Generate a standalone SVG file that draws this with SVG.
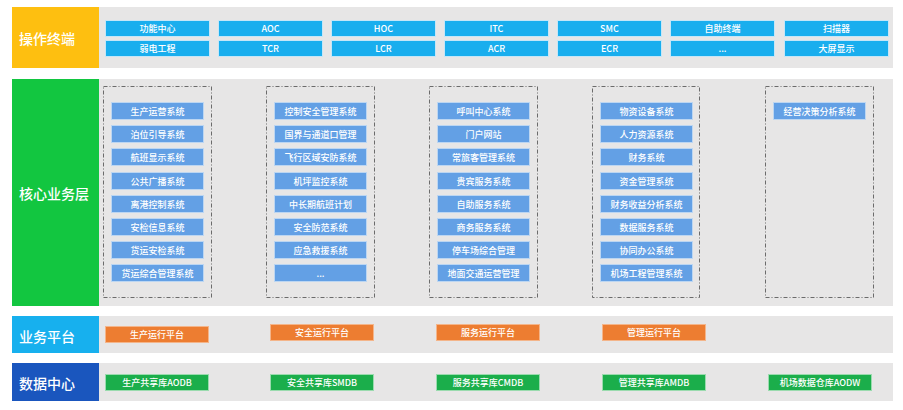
<svg xmlns="http://www.w3.org/2000/svg" width="903" height="410" viewBox="0 0 903 410">
<defs>
<style>
.band{fill:#E7E6E6;}
.lbl{fill:#fff;font-family:"Noto Sans CJK SC","Noto Sans",sans-serif;font-size:14px;font-weight:500;dominant-baseline:central;}
.t{fill:#fff;font-family:"Noto Sans CJK SC","Noto Sans",sans-serif;font-size:9px;font-weight:500;text-anchor:middle;dominant-baseline:central;}
.tb{fill:#19AEEE;stroke:#C5E6F7;stroke-width:1;}
.cb{fill:#63A0E5;stroke:#BCD6F2;stroke-width:1;}
.ob{fill:#ED7D31;stroke:#F4B58A;stroke-width:1;}
.gb{fill:#1BAE4B;stroke:#9ADBAE;stroke-width:1;}
.dash{fill:none;stroke:#6b6b6b;stroke-width:1;stroke-dasharray:4 2 1 2;}
</style>
</defs>
<rect width="903" height="410" fill="#fff"/>

<!-- 操作终端 -->
<g id="layer-terminal">
<rect class="band" x="99" y="7" width="794" height="61"/>
<rect x="12" y="7" width="87" height="61" fill="#FEBF10"/>
<text class="lbl" x="19" y="37.5">操作终端</text>
</g>
<g id="terminal-items">
<g id="t1"><rect class="tb" x="105.5" y="20.5" width="104" height="16"/><text class="t" x="157.5" y="28.5">功能中心</text></g>
<g id="t2"><rect class="tb" x="218.5" y="20.5" width="104" height="16"/><text class="t" x="270.5" y="28.5">AOC</text></g>
<g id="t3"><rect class="tb" x="331.5" y="20.5" width="104" height="16"/><text class="t" x="383.5" y="28.5">HOC</text></g>
<g id="t4"><rect class="tb" x="444.5" y="20.5" width="104" height="16"/><text class="t" x="496.5" y="28.5">ITC</text></g>
<g id="t5"><rect class="tb" x="557.5" y="20.5" width="104" height="16"/><text class="t" x="609.5" y="28.5">SMC</text></g>
<g id="t6"><rect class="tb" x="670.5" y="20.5" width="104" height="16"/><text class="t" x="722.5" y="28.5">自助终端</text></g>
<g id="t7"><rect class="tb" x="784.5" y="20.5" width="104" height="16"/><text class="t" x="836.5" y="28.5">扫描器</text></g>
<g id="t8"><rect class="tb" x="105.5" y="40.5" width="104" height="16"/><text class="t" x="157.5" y="48.5">弱电工程</text></g>
<g id="t9"><rect class="tb" x="218.5" y="40.5" width="104" height="16"/><text class="t" x="270.5" y="48.5">TCR</text></g>
<g id="t10"><rect class="tb" x="331.5" y="40.5" width="104" height="16"/><text class="t" x="383.5" y="48.5">LCR</text></g>
<g id="t11"><rect class="tb" x="444.5" y="40.5" width="104" height="16"/><text class="t" x="496.5" y="48.5">ACR</text></g>
<g id="t12"><rect class="tb" x="557.5" y="40.5" width="104" height="16"/><text class="t" x="609.5" y="48.5">ECR</text></g>
<g id="t13"><rect class="tb" x="670.5" y="40.5" width="104" height="16"/><text class="t" x="722.5" y="48.5">...</text></g>
<g id="t14"><rect class="tb" x="784.5" y="40.5" width="104" height="16"/><text class="t" x="836.5" y="48.5">大屏显示</text></g>
</g>

<!-- 核心业务层 -->
<g id="layer-core">
<rect class="band" x="99" y="79" width="794" height="227"/>
<rect x="12" y="79" width="87" height="227" fill="#12C640"/>
<text class="lbl" x="19" y="192.5">核心业务层</text>
</g>
<g id="core-groups">
<rect class="dash" x="103.5" y="86.5" width="108" height="211"/>
<rect class="dash" x="266.5" y="86.5" width="108" height="211"/>
<rect class="dash" x="429.5" y="86.5" width="108" height="211"/>
<rect class="dash" x="592.5" y="86.5" width="107" height="211"/>
<rect class="dash" x="765.5" y="86.5" width="108" height="211"/>
</g>
<g id="core-col1">
<g id="c1-1"><rect class="cb" x="111.5" y="102.5" width="92" height="17"/><text class="t" x="157.5" y="111">生产运营系统</text></g>
<g id="c1-2"><rect class="cb" x="111.5" y="125.5" width="92" height="17"/><text class="t" x="157.5" y="134">泊位引导系统</text></g>
<g id="c1-3"><rect class="cb" x="111.5" y="148.5" width="92" height="17"/><text class="t" x="157.5" y="157">航班显示系统</text></g>
<g id="c1-4"><rect class="cb" x="111.5" y="172.5" width="92" height="17"/><text class="t" x="157.5" y="181">公共广播系统</text></g>
<g id="c1-5"><rect class="cb" x="111.5" y="195.5" width="92" height="17"/><text class="t" x="157.5" y="204">离港控制系统</text></g>
<g id="c1-6"><rect class="cb" x="111.5" y="218.5" width="92" height="17"/><text class="t" x="157.5" y="227">安检信息系统</text></g>
<g id="c1-7"><rect class="cb" x="111.5" y="241.5" width="92" height="17"/><text class="t" x="157.5" y="250">货运安检系统</text></g>
<g id="c1-8"><rect class="cb" x="111.5" y="264.5" width="92" height="17"/><text class="t" x="157.5" y="273">货运综合管理系统</text></g>
</g>
<g id="core-col2">
<g id="c2-1"><rect class="cb" x="274.5" y="102.5" width="92" height="17"/><text class="t" x="320.5" y="111">控制安全管理系统</text></g>
<g id="c2-2"><rect class="cb" x="274.5" y="125.5" width="92" height="17"/><text class="t" x="320.5" y="134">国界与通道口管理</text></g>
<g id="c2-3"><rect class="cb" x="274.5" y="148.5" width="92" height="17"/><text class="t" x="320.5" y="157">飞行区域安防系统</text></g>
<g id="c2-4"><rect class="cb" x="274.5" y="172.5" width="92" height="17"/><text class="t" x="320.5" y="181">机坪监控系统</text></g>
<g id="c2-5"><rect class="cb" x="274.5" y="195.5" width="92" height="17"/><text class="t" x="320.5" y="204">中长期航班计划</text></g>
<g id="c2-6"><rect class="cb" x="274.5" y="218.5" width="92" height="17"/><text class="t" x="320.5" y="227">安全防范系统</text></g>
<g id="c2-7"><rect class="cb" x="274.5" y="241.5" width="92" height="17"/><text class="t" x="320.5" y="250">应急救援系统</text></g>
<g id="c2-8"><rect class="cb" x="274.5" y="264.5" width="92" height="17"/><text class="t" x="320.5" y="273">...</text></g>
</g>
<g id="core-col3">
<g id="c3-1"><rect class="cb" x="437.5" y="102.5" width="92" height="17"/><text class="t" x="483.5" y="111">呼叫中心系统</text></g>
<g id="c3-2"><rect class="cb" x="437.5" y="125.5" width="92" height="17"/><text class="t" x="483.5" y="134">门户网站</text></g>
<g id="c3-3"><rect class="cb" x="437.5" y="148.5" width="92" height="17"/><text class="t" x="483.5" y="157">常旅客管理系统</text></g>
<g id="c3-4"><rect class="cb" x="437.5" y="172.5" width="92" height="17"/><text class="t" x="483.5" y="181">贵宾服务系统</text></g>
<g id="c3-5"><rect class="cb" x="437.5" y="195.5" width="92" height="17"/><text class="t" x="483.5" y="204">自助服务系统</text></g>
<g id="c3-6"><rect class="cb" x="437.5" y="218.5" width="92" height="17"/><text class="t" x="483.5" y="227">商务服务系统</text></g>
<g id="c3-7"><rect class="cb" x="437.5" y="241.5" width="92" height="17"/><text class="t" x="483.5" y="250">停车场综合管理</text></g>
<g id="c3-8"><rect class="cb" x="437.5" y="264.5" width="92" height="17"/><text class="t" x="483.5" y="273">地面交通运营管理</text></g>
</g>
<g id="core-col4">
<g id="c4-1"><rect class="cb" x="600.5" y="102.5" width="92" height="17"/><text class="t" x="646.5" y="111">物资设备系统</text></g>
<g id="c4-2"><rect class="cb" x="600.5" y="125.5" width="92" height="17"/><text class="t" x="646.5" y="134">人力资源系统</text></g>
<g id="c4-3"><rect class="cb" x="600.5" y="148.5" width="92" height="17"/><text class="t" x="646.5" y="157">财务系统</text></g>
<g id="c4-4"><rect class="cb" x="600.5" y="172.5" width="92" height="17"/><text class="t" x="646.5" y="181">资金管理系统</text></g>
<g id="c4-5"><rect class="cb" x="600.5" y="195.5" width="92" height="17"/><text class="t" x="646.5" y="204">财务收益分析系统</text></g>
<g id="c4-6"><rect class="cb" x="600.5" y="218.5" width="92" height="17"/><text class="t" x="646.5" y="227">数据服务系统</text></g>
<g id="c4-7"><rect class="cb" x="600.5" y="241.5" width="92" height="17"/><text class="t" x="646.5" y="250">协同办公系统</text></g>
<g id="c4-8"><rect class="cb" x="600.5" y="264.5" width="92" height="17"/><text class="t" x="646.5" y="273">机场工程管理系统</text></g>
</g>
<g id="core-col5">
<g id="c5-1"><rect class="cb" x="773.5" y="102.5" width="92" height="17"/><text class="t" x="819.5" y="111">经营决策分析系统</text></g>
</g>

<!-- 业务平台 -->
<g id="layer-platform">
<rect class="band" x="99" y="316" width="794" height="37"/>
<rect x="12" y="316" width="87" height="37" fill="#17B0EE"/>
<text class="lbl" x="19" y="335.5">业务平台</text>
</g>
<g id="platform-items">
<g id="p1"><rect class="ob" x="105.5" y="326.5" width="103" height="16"/><text class="t" x="157" y="334.5">生产运行平台</text></g>
<g id="p2"><rect class="ob" x="270.5" y="324.5" width="103" height="16"/><text class="t" x="322" y="332.5">安全运行平台</text></g>
<g id="p3"><rect class="ob" x="436.5" y="324.5" width="103" height="16"/><text class="t" x="488" y="332.5">服务运行平台</text></g>
<g id="p4"><rect class="ob" x="602.5" y="324.5" width="103" height="16"/><text class="t" x="654" y="332.5">管理运行平台</text></g>
</g>

<!-- 数据中心 -->
<g id="layer-data">
<rect class="band" x="99" y="363" width="794" height="38"/>
<rect x="12" y="363" width="87" height="38" fill="#1A56BE"/>
<text class="lbl" x="19" y="382.5">数据中心</text>
</g>
<g id="data-items">
<g id="d1"><rect class="gb" x="105.5" y="374.5" width="103" height="16"/><text class="t" x="157" y="382.5">生产共享库AODB</text></g>
<g id="d2"><rect class="gb" x="270.5" y="374.5" width="103" height="16"/><text class="t" x="322" y="382.5">安全共享库SMDB</text></g>
<g id="d3"><rect class="gb" x="436.5" y="374.5" width="103" height="16"/><text class="t" x="488" y="382.5">服务共享库CMDB</text></g>
<g id="d4"><rect class="gb" x="602.5" y="374.5" width="103" height="16"/><text class="t" x="654" y="382.5">管理共享库AMDB</text></g>
<g id="d5"><rect class="gb" x="768.5" y="374.5" width="103" height="16"/><text class="t" x="820" y="382.5">机场数据仓库AODW</text></g>
</g>
<g id="connectors"></g>
</svg>
